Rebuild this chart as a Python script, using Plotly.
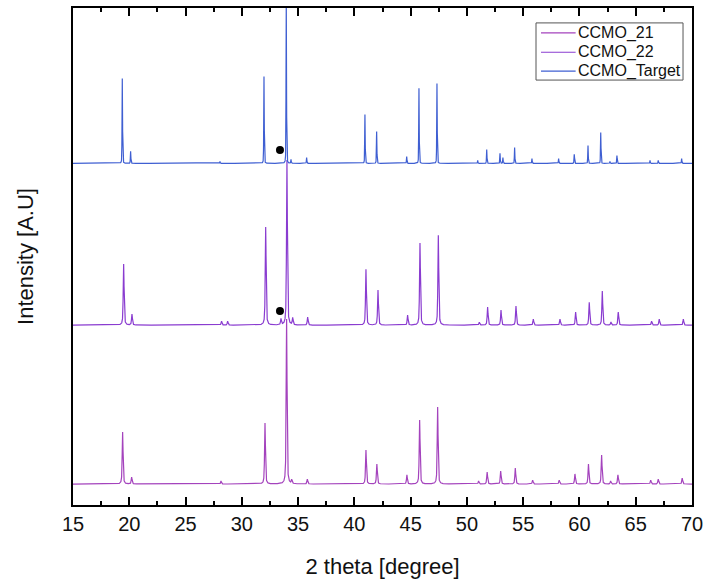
import numpy as np
import plotly.graph_objects as go

# Reflection positions (2 theta, degree) and relative intensities (strongest = 100)
pos_21 = [19.41, 20.21, 28.15, 32.06, 33.98, 34.43, 35.82, 41.03, 42.00, 44.67,
          45.80, 47.40, 51.04, 51.80, 53.00, 54.30, 55.84, 58.20, 59.60, 60.80,
          61.97, 62.77, 63.42, 66.33, 67.00, 69.13]
int_21 = [31.5, 4.2, 1.8, 37.0, 100.0, 2.4, 3.0, 20.6, 12.1, 5.5,
          38.8, 46.7, 1.8, 7.3, 7.9, 9.7, 2.4, 2.4, 6.1, 12.1,
          17.6, 1.8, 5.5, 2.4, 3.0, 3.6]

pos_22 = [19.50, 20.24, 28.20, 28.74, 32.12, 33.48, 34.01, 34.52, 35.85, 41.03,
          42.10, 44.73, 45.83, 47.46, 51.10, 51.84, 53.03, 54.36, 55.90, 58.27,
          59.66, 60.87, 62.03, 62.80, 63.45, 66.41, 67.09, 69.23]
int_22 = [37.0, 6.7, 2.4, 2.4, 59.4, 3.6, 100.0, 4.2, 4.8, 33.9,
          21.2, 6.1, 49.7, 54.5, 1.8, 10.9, 9.1, 11.5, 3.6, 3.6,
          7.9, 13.9, 20.6, 1.8, 7.9, 2.4, 3.6, 3.6]

pos_target = [19.38, 20.12, 28.06, 31.97, 33.95, 34.37, 35.76, 40.94, 41.98, 44.65,
              45.74, 47.34, 50.96, 51.76, 52.94, 53.20, 54.24, 55.78, 58.15, 59.54,
              60.76, 61.89, 62.71, 63.33, 66.27, 67.00, 69.08]
int_target = [51.5, 7.3, 1.2, 52.7, 100.0, 2.4, 3.6, 29.7, 19.4, 4.2,
              45.5, 48.5, 1.8, 8.5, 6.1, 3.6, 9.7, 3.0, 3.0, 5.5,
              10.9, 18.8, 1.2, 4.8, 1.8, 1.8, 3.0]

# Vertical stacking offsets of the three patterns
offset_21 = 12.7
offset_22 = 109.0
offset_target = 207.0

# Impurity markers (2 theta, stacked intensity)
dot_x = [33.39, 33.39]
dot_y = [215.2, 117.6]

series_names = ["CCMO_21", "CCMO_22", "CCMO_Target"]
series_colors = ["#a443bd", "#8a3cd0", "#3f5fd2"]

two_theta = np.arange(15.0, 70.0001, 0.005)


def profile(positions, heights, fwhm, eta, offset):
    """Sum of pseudo-Voigt reflections on a flat stacked baseline."""
    y = np.full_like(two_theta, offset)
    hw = fwhm / 2.0
    for p, h in zip(positions, heights):
        d = (two_theta - p) / hw
        lor = 1.0 / (1.0 + d ** 2)
        gau = np.exp(-np.log(2.0) * d ** 2)
        y += h * (eta * lor + (1.0 - eta) * gau)
    return y


curves = [
    profile(pos_21, int_21, 0.09, 0.6, offset_21),
    profile(pos_22, int_22, 0.09, 0.6, offset_22),
    profile(pos_target, int_target, 0.05, 0.3, offset_target),
]

fig = go.Figure()
for name, color, curve in zip(series_names, series_colors, curves):
    fig.add_trace(go.Scatter(
        x=two_theta, y=curve, mode="lines", name=name,
        line=dict(color=color, width=1.2)))
fig.add_trace(go.Scatter(
    x=dot_x, y=dot_y, mode="markers", showlegend=False,
    marker=dict(color="black", size=8, symbol="circle")))

# Compact boxed legend in the upper right corner
box_x0, box_x1 = 0.748, 0.9855
box_y0, box_y1 = 0.855, 0.970
row_y = [0.950, 0.911, 0.873]
fig.add_shape(type="rect", xref="paper", yref="paper",
              x0=box_x0, x1=box_x1, y0=box_y0, y1=box_y1,
              line=dict(color="#555555", width=1), fillcolor="white", layer="above")
for name, color, ry in zip(series_names, series_colors, row_y):
    fig.add_shape(type="line", xref="paper", yref="paper",
                  x0=0.756, x1=0.812, y0=ry, y1=ry,
                  line=dict(color=color, width=1.2), layer="above")
    fig.add_annotation(xref="paper", yref="paper", x=0.813, y=ry,
                       xanchor="left", yanchor="middle", showarrow=False,
                       text=name, font=dict(size=16, color="#111111"))

fig.update_layout(
    width=704, height=584,
    margin=dict(l=73, r=12, t=8, b=79),
    paper_bgcolor="white", plot_bgcolor="white",
    font=dict(family="Liberation Sans, Arial, sans-serif", color="#111111"),
    showlegend=False,
)

fig.update_xaxes(
    range=[15, 70], tickmode="linear", tick0=15, dtick=5,
    ticks="inside", ticklen=8, tickwidth=2, tickcolor="black",
    minor=dict(ticks="inside", ticklen=4, tickwidth=2, tickcolor="black", dtick=2.5),
    showline=True, linewidth=2, linecolor="black", mirror="ticks",
    showgrid=False, zeroline=False, automargin=False,
    tickfont=dict(size=20),
    title=dict(text="2 theta [degree]", font=dict(size=22), standoff=25),
)
fig.update_yaxes(
    range=[0, 301.2], showticklabels=False, ticks="",
    showline=True, linewidth=2, linecolor="black", mirror=True,
    showgrid=False, zeroline=False, automargin=False,
    title=dict(text="Intensity [A.U]", font=dict(size=22), standoff=31),
)

fig.write_html("out.html")
